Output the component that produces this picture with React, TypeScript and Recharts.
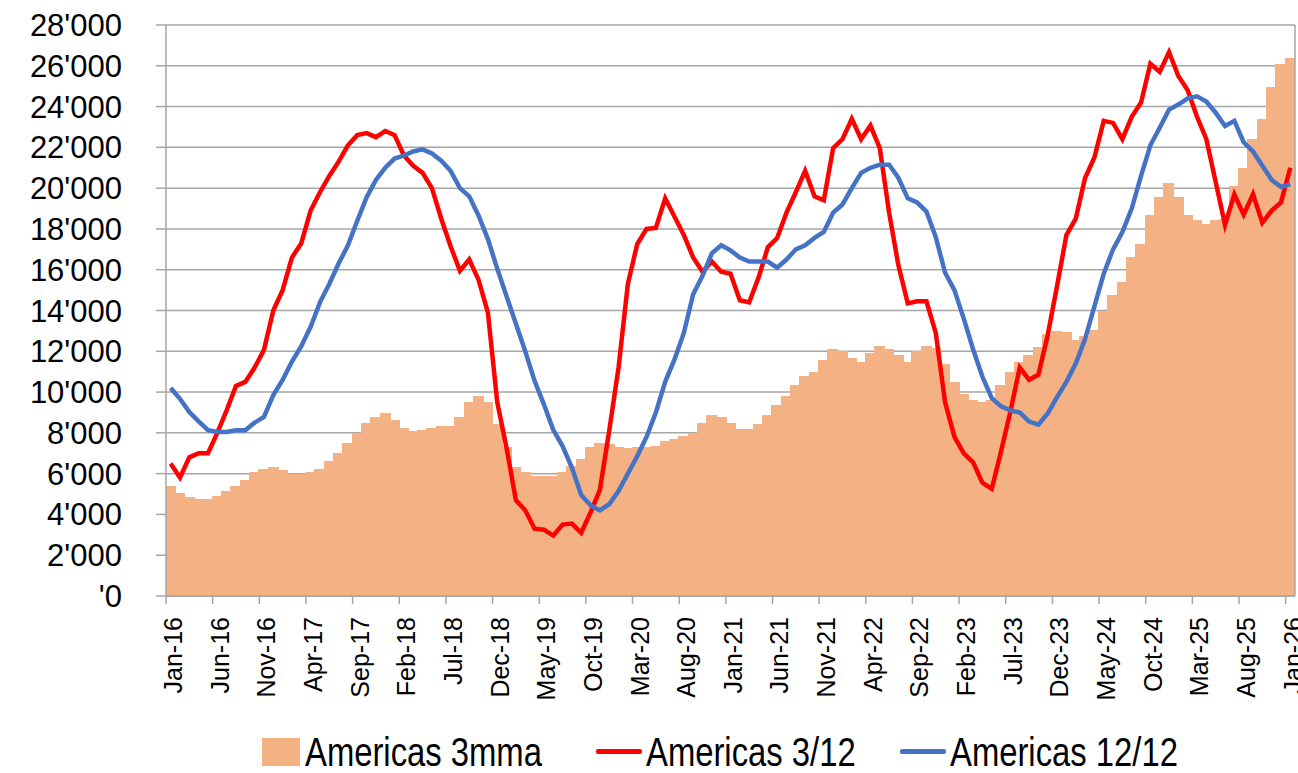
import React from 'react';
import { ComposedChart, Bar, Line, XAxis, YAxis, CartesianGrid, Legend } from 'recharts';

const tickMonths = [0, 5, 10, 15, 20, 25, 30, 35, 40, 45, 50, 55, 60, 65, 70, 75, 80, 85, 90, 95, 100, 105, 110, 115, 120];
const tickLabels = ['Jan-16', 'Jun-16', 'Nov-16', 'Apr-17', 'Sep-17', 'Feb-18', 'Jul-18', 'Dec-18', 'May-19', 'Oct-19', 'Mar-20', 'Aug-20', 'Jan-21', 'Jun-21', 'Nov-21', 'Apr-22', 'Sep-22', 'Feb-23', 'Jul-23', 'Dec-23', 'May-24', 'Oct-24', 'Mar-25', 'Aug-25', 'Jan-26'];

const americas3mma = [
  5400, 5050, 4860, 4770, 4770, 4920, 5140, 5380, 5690, 6060,
  6210, 6340, 6160, 6000, 6000, 6060, 6250, 6620, 6990, 7490,
  7970, 8500, 8800, 8960, 8610, 8240, 8100, 8150, 8240, 8340,
  8340, 8800, 9520, 9800, 9520, 8430, 7300, 6340, 6060, 5880,
  5880, 5880, 6060, 6380, 6700, 7320, 7500, 7450, 7320, 7260,
  7300, 7300, 7360, 7600, 7690, 7860, 8000, 8500, 8900, 8800,
  8500, 8190, 8190, 8410, 8900, 9350, 9800, 10350, 10800, 11000,
  11550, 12100, 12000, 11650, 11460, 11920, 12250, 12100, 11830, 11460,
  12000, 12250, 12160, 11370, 10500, 9900, 9600, 9520, 9600, 10350,
  11000, 11460, 11830, 12200, 12850, 13000, 12940, 12570, 12750, 13030,
  14000, 14750, 15400, 16600, 17250, 18700, 19560, 20260, 19560, 18700,
  18450, 18260, 18450, 18500, 20100, 21000, 22400, 23400, 24950, 26100,
  26400,
];

const americas3of12 = [
  6500, 5800, 6800, 7000, 7000, 8000, 9100, 10300, 10500, 11200,
  12070, 14000, 15000, 16600, 17300, 18900, 19800, 20600, 21300, 22100,
  22600, 22700, 22500, 22800, 22600, 21600, 21100, 20750, 20000, 18500,
  17150, 15950, 16500, 15500, 13900, 9500, 7260, 4700, 4200, 3300,
  3250, 2960, 3500, 3550, 3100, 4100, 5200, 8100, 11200, 15300,
  17250, 18000, 18050, 19500, 18600, 17700, 16600, 15900, 16400, 15900,
  15800, 14500, 14400, 15600, 17100, 17550, 18800, 19800, 20850, 19600,
  19400, 21960, 22400, 23400, 22400, 23070, 21960, 18800, 16200, 14350,
  14450, 14450, 12900, 9500, 7800, 7000, 6550, 5550, 5250, 7100,
  9050, 11200, 10600, 10850, 12800, 15200, 17700, 18500, 20500, 21500,
  23300, 23200, 22400, 23500, 24200, 26100, 25700, 26670, 25500, 24800,
  23500, 22400, 20300, 18200, 19700, 18700, 19700, 18300, 18900, 19300,
  21000,
];

const americas12of12 = [
  10200, 9670, 9020, 8560, 8130, 8040, 8040, 8130, 8130, 8500,
  8780, 9850, 10600, 11500, 12250, 13200, 14400, 15300, 16300, 17200,
  18400, 19550, 20400, 21000, 21450, 21600, 21800, 21900, 21700, 21350,
  20850, 20000, 19600, 18650, 17500, 16050, 14700, 13350, 12000, 10550,
  9400, 8150, 7350, 6300, 4950, 4450, 4200, 4500, 5150, 6000,
  6850, 7800, 9000, 10500, 11600, 12900, 14800, 15700, 16800, 17200,
  16950, 16600, 16400, 16400, 16400, 16100, 16500, 17000, 17200, 17560,
  17850, 18800, 19200, 20000, 20750, 21000, 21150, 21150, 20500, 19500,
  19300, 18850, 17600, 15850, 15000, 13600, 12100, 10750, 9700, 9300,
  9100, 9000, 8550, 8400, 8950, 9750, 10500, 11400, 12600, 14200,
  15800, 17000, 17850, 19000, 20600, 22100, 22960, 23850, 24100, 24400,
  24500, 24250, 23700, 23050, 23300, 22250, 21800, 21100, 20400, 20060,
  20200,
];

const yTicks = [0, 2000, 4000, 6000, 8000, 10000, 12000, 14000, 16000, 18000, 20000, 22000, 24000, 26000, 28000];
const rightTicks = [0, 1, 2, 3, 4, 5, 6, 7, 8, 9, 10];

const seriesNames = ['Americas 3mma', 'Americas 3/12', 'Americas 12/12'];
const COLOR_BAR = '#F4B183';
const COLOR_RED = '#FF0000';
const COLOR_BLUE = '#4472C4';
const GRID = '#a6a6a6';

const data = americas3mma.map((v, i) => ({
  x: i + 0.5,
  mma: v,
  r: americas3of12[i],
  b: americas12of12[i],
}));

const fmtY = (v: number) => (v === 0 ? "'0" : `${v / 1000}'000`);

const XTick = (props: any) => {
  const { x, y, payload } = props;
  const idx = tickMonths.indexOf(payload.value);
  return (
    <g transform={`translate(${x},${y})`}>
      <text
        transform="rotate(-90)"
        x={0}
        y={16}
        textAnchor="end"
        fontSize={25}
        fill="#000"
        fontFamily="'Liberation Sans', Arial, sans-serif"
      >
        {idx >= 0 ? tickLabels[idx] : ''}
      </text>
    </g>
  );
};

// Widen each bar slightly (from its own centre) so adjacent months join without seams.
const SeamlessBar = (props: any) => {
  const { x, y, width, height, fill } = props;
  if (height == null || height <= 0) return null;
  const cx = x + width / 2;
  const w = Math.max(width, 9.4) + 1.6;
  return <rect x={cx - w / 2} y={y} width={w} height={height} fill={fill} shapeRendering="crispEdges" />;
};

const LegendContent = () => {
  const font = "'Liberation Sans', Arial, sans-serif";
  const items = [
    { left: 262, kind: 'square', color: COLOR_BAR, label: seriesNames[0] },
    { left: 596, kind: 'line', color: COLOR_RED, label: seriesNames[1] },
    { left: 900, kind: 'line', color: COLOR_BLUE, label: seriesNames[2] },
  ];
  return (
    <div style={{ position: 'relative', width: 1298, height: 55 }}>
      {items.map((it) => (
        <div
          key={it.label}
          style={{
            position: 'absolute',
            left: it.left,
            top: 6,
            height: 55,
            display: 'flex',
            alignItems: 'center',
            whiteSpace: 'nowrap',
          }}
        >
          {it.kind === 'square' ? (
            <div style={{ width: 38, height: 28, background: it.color, marginRight: 5, flex: '0 0 auto' }} />
          ) : (
            <div style={{ width: 46, height: 5, background: it.color, borderRadius: 2, marginRight: 4, flex: '0 0 auto' }} />
          )}
          <span
            style={{
              fontFamily: font,
              fontSize: 40,
              color: '#000',
              lineHeight: '40px',
              display: 'inline-block',
              transform: 'scaleX(0.82)',
              transformOrigin: 'left center',
            }}
          >
            {it.label}
          </span>
        </div>
      ))}
    </div>
  );
};

export default function App() {
  return (
    <div style={{ position: 'absolute', left: 0, top: 0, width: 1298, height: 773, background: '#fff', overflow: 'hidden' }}>
      <ComposedChart
        width={1298}
        height={773}
        data={data}
        margin={{ top: 25, right: 0, left: 0, bottom: 0 }}
        barCategoryGap={0}
        barGap={0}
      >
        <CartesianGrid yAxisId="left" vertical={false} stroke={GRID} strokeWidth={1.5} />
        <XAxis
          dataKey="x"
          type="number"
          domain={[0, 121]}
          ticks={tickMonths}
          interval={0}
          height={122}
          tickSize={8}
          tickMargin={13}
          stroke={GRID}
          strokeWidth={1.5}
          tick={<XTick />}
          allowDataOverflow
        />
        <YAxis
          yAxisId="left"
          domain={[0, 28000]}
          ticks={yTicks}
          interval={0}
          width={166}
          tickSize={10}
          tickMargin={34}
          tickFormatter={fmtY}
          stroke={GRID}
          strokeWidth={1.5}
          tick={{ fill: '#000', fontSize: 31, fontFamily: "'Liberation Sans', Arial, sans-serif" }}
        />
        <YAxis
          yAxisId="right"
          orientation="right"
          domain={[0, 10]}
          ticks={rightTicks}
          interval={0}
          width={3}
          tickSize={8}
          tickFormatter={() => ''}
          stroke={GRID}
          strokeWidth={1.5}
        />
        <Legend verticalAlign="bottom" height={55} content={<LegendContent />} />
        <Bar
          yAxisId="left"
          dataKey="mma"
          name={seriesNames[0]}
          fill={COLOR_BAR}
          barSize={9}
          shape={<SeamlessBar />}
          isAnimationActive={false}
        />
        <Line
          yAxisId="left"
          dataKey="r"
          name={seriesNames[1]}
          stroke={COLOR_RED}
          strokeWidth={4.5}
          dot={false}
          type="linear"
          isAnimationActive={false}
        />
        <Line
          yAxisId="left"
          dataKey="b"
          name={seriesNames[2]}
          stroke={COLOR_BLUE}
          strokeWidth={4.5}
          dot={false}
          type="linear"
          isAnimationActive={false}
        />
      </ComposedChart>
    </div>
  );
}
